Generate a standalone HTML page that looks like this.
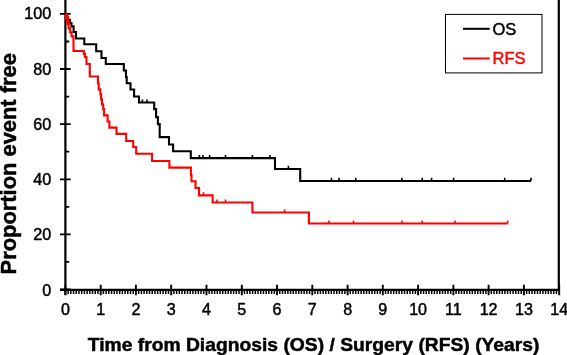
<!DOCTYPE html>
<html><head><meta charset="utf-8"><title>Kaplan-Meier</title>
<style>html,body{margin:0;padding:0;background:#fff}svg{display:block}text{font-family:"Liberation Sans",Arial,sans-serif;stroke-width:0.45px;paint-order:stroke}</style></head><body>
<svg width="567" height="355" viewBox="0 0 567 355">
<rect width="567" height="355" fill="#fff"/>
<g stroke="#000" stroke-width="2.2" fill="none">
<path d="M65.4,0V295"/>
<path d="M60,289.9H559.4"/>
<path d="M558.8,0V290.7"/>
</g>
<path d="M60,289.5H70.6 M60,234.4H70.6 M60,179.3H70.6 M60,124.1H70.6 M60,69.0H70.6 M60,13.9H70.6 M65.4,261.9H69.2 M65.4,206.8H69.2 M65.4,151.7H69.2 M65.4,96.6H69.2 M65.4,41.5H69.2" stroke="#000" stroke-width="1.8" fill="none"/>
<path d="M65.4,284.7V295.2 M100.7,284.7V295.2 M135.9,284.7V295.2 M171.2,284.7V295.2 M206.5,284.7V295.2 M241.8,284.7V295.2 M277.0,284.7V295.2 M312.3,284.7V295.2 M347.6,284.7V295.2 M382.8,284.7V295.2 M418.1,284.7V295.2 M453.4,284.7V295.2 M488.6,284.7V295.2 M523.9,284.7V295.2 M559.2,284.7V295.2" stroke="#000" stroke-width="1.9" fill="none"/>
<path d="M68.11,289.5V293.9 M70.83,289.5V293.9 M73.54,289.5V293.9 M76.25,289.5V293.9 M78.97,289.5V293.9 M81.68,289.5V293.9 M84.39,289.5V293.9 M87.10,289.5V293.9 M89.82,289.5V293.9 M92.53,289.5V293.9 M95.24,289.5V293.9 M97.96,289.5V293.9 M103.38,289.5V293.9 M106.10,289.5V293.9 M108.81,289.5V293.9 M111.52,289.5V293.9 M114.24,289.5V293.9 M116.95,289.5V293.9 M119.66,289.5V293.9 M122.37,289.5V293.9 M125.09,289.5V293.9 M127.80,289.5V293.9 M130.51,289.5V293.9 M133.23,289.5V293.9 M138.65,289.5V293.9 M141.37,289.5V293.9 M144.08,289.5V293.9 M146.79,289.5V293.9 M149.51,289.5V293.9 M152.22,289.5V293.9 M154.93,289.5V293.9 M157.64,289.5V293.9 M160.36,289.5V293.9 M163.07,289.5V293.9 M165.78,289.5V293.9 M168.50,289.5V293.9 M173.92,289.5V293.9 M176.64,289.5V293.9 M179.35,289.5V293.9 M182.06,289.5V293.9 M184.78,289.5V293.9 M187.49,289.5V293.9 M190.20,289.5V293.9 M192.91,289.5V293.9 M195.63,289.5V293.9 M198.34,289.5V293.9 M201.05,289.5V293.9 M203.77,289.5V293.9 M209.19,289.5V293.9 M211.91,289.5V293.9 M214.62,289.5V293.9 M217.33,289.5V293.9 M220.05,289.5V293.9 M222.76,289.5V293.9 M225.47,289.5V293.9 M228.18,289.5V293.9 M230.90,289.5V293.9 M233.61,289.5V293.9 M236.32,289.5V293.9 M239.04,289.5V293.9 M244.46,289.5V293.9 M247.18,289.5V293.9 M249.89,289.5V293.9 M252.60,289.5V293.9 M255.32,289.5V293.9 M258.03,289.5V293.9 M260.74,289.5V293.9 M263.45,289.5V293.9 M266.17,289.5V293.9 M268.88,289.5V293.9 M271.59,289.5V293.9 M274.31,289.5V293.9 M279.73,289.5V293.9 M282.45,289.5V293.9 M285.16,289.5V293.9 M287.87,289.5V293.9 M290.59,289.5V293.9 M293.30,289.5V293.9 M296.01,289.5V293.9 M298.72,289.5V293.9 M301.44,289.5V293.9 M304.15,289.5V293.9 M306.86,289.5V293.9 M309.58,289.5V293.9 M315.00,289.5V293.9 M317.72,289.5V293.9 M320.43,289.5V293.9 M323.14,289.5V293.9 M325.86,289.5V293.9 M328.57,289.5V293.9 M331.28,289.5V293.9 M333.99,289.5V293.9 M336.71,289.5V293.9 M339.42,289.5V293.9 M342.13,289.5V293.9 M344.85,289.5V293.9 M350.27,289.5V293.9 M352.99,289.5V293.9 M355.70,289.5V293.9 M358.41,289.5V293.9 M361.13,289.5V293.9 M363.84,289.5V293.9 M366.55,289.5V293.9 M369.26,289.5V293.9 M371.98,289.5V293.9 M374.69,289.5V293.9 M377.40,289.5V293.9 M380.12,289.5V293.9 M385.54,289.5V293.9 M388.26,289.5V293.9 M390.97,289.5V293.9 M393.68,289.5V293.9 M396.40,289.5V293.9 M399.11,289.5V293.9 M401.82,289.5V293.9 M404.53,289.5V293.9 M407.25,289.5V293.9 M409.96,289.5V293.9 M412.67,289.5V293.9 M415.39,289.5V293.9 M420.81,289.5V293.9 M423.53,289.5V293.9 M426.24,289.5V293.9 M428.95,289.5V293.9 M431.67,289.5V293.9 M434.38,289.5V293.9 M437.09,289.5V293.9 M439.80,289.5V293.9 M442.52,289.5V293.9 M445.23,289.5V293.9 M447.94,289.5V293.9 M450.66,289.5V293.9 M456.08,289.5V293.9 M458.80,289.5V293.9 M461.51,289.5V293.9 M464.22,289.5V293.9 M466.94,289.5V293.9 M469.65,289.5V293.9 M472.36,289.5V293.9 M475.07,289.5V293.9 M477.79,289.5V293.9 M480.50,289.5V293.9 M483.21,289.5V293.9 M485.93,289.5V293.9 M491.35,289.5V293.9 M494.07,289.5V293.9 M496.78,289.5V293.9 M499.49,289.5V293.9 M502.21,289.5V293.9 M504.92,289.5V293.9 M507.63,289.5V293.9 M510.34,289.5V293.9 M513.06,289.5V293.9 M515.77,289.5V293.9 M518.48,289.5V293.9 M521.20,289.5V293.9 M526.62,289.5V293.9 M529.34,289.5V293.9 M532.05,289.5V293.9 M534.76,289.5V293.9 M537.48,289.5V293.9 M540.19,289.5V293.9 M542.90,289.5V293.9 M545.61,289.5V293.9 M548.33,289.5V293.9 M551.04,289.5V293.9 M553.75,289.5V293.9 M556.47,289.5V293.9" stroke="#000" stroke-width="1.5" fill="none"/>
<text transform="translate(51.2,295.8) scale(1.0,1)" font-size="16.2" stroke="#000" text-anchor="end">0</text>
<text transform="translate(51.2,240.4) scale(1.0,1)" font-size="16.2" stroke="#000" text-anchor="end">20</text>
<text transform="translate(51.2,185.3) scale(1.0,1)" font-size="16.2" stroke="#000" text-anchor="end">40</text>
<text transform="translate(51.2,130.1) scale(1.0,1)" font-size="16.2" stroke="#000" text-anchor="end">60</text>
<text transform="translate(51.2,75.0) scale(1.0,1)" font-size="16.2" stroke="#000" text-anchor="end">80</text>
<text transform="translate(51.2,19.3) scale(1.0,1)" font-size="16.2" stroke="#000" text-anchor="end">100</text>
<text transform="translate(65.4,315.3) scale(1.0,1)" font-size="16.1" stroke="#000" text-anchor="middle">0</text>
<text transform="translate(100.7,315.3) scale(1.0,1)" font-size="16.1" stroke="#000" text-anchor="middle">1</text>
<text transform="translate(135.9,315.3) scale(1.0,1)" font-size="16.1" stroke="#000" text-anchor="middle">2</text>
<text transform="translate(171.2,315.3) scale(1.0,1)" font-size="16.1" stroke="#000" text-anchor="middle">3</text>
<text transform="translate(206.5,315.3) scale(1.0,1)" font-size="16.1" stroke="#000" text-anchor="middle">4</text>
<text transform="translate(241.8,315.3) scale(1.0,1)" font-size="16.1" stroke="#000" text-anchor="middle">5</text>
<text transform="translate(277.0,315.3) scale(1.0,1)" font-size="16.1" stroke="#000" text-anchor="middle">6</text>
<text transform="translate(312.3,315.3) scale(1.0,1)" font-size="16.1" stroke="#000" text-anchor="middle">7</text>
<text transform="translate(347.6,315.3) scale(1.0,1)" font-size="16.1" stroke="#000" text-anchor="middle">8</text>
<text transform="translate(382.8,315.3) scale(1.0,1)" font-size="16.1" stroke="#000" text-anchor="middle">9</text>
<text transform="translate(418.1,315.3) scale(1.0,1)" font-size="16.1" stroke="#000" text-anchor="middle">10</text>
<text transform="translate(453.4,315.3) scale(1.0,1)" font-size="16.1" stroke="#000" text-anchor="middle">11</text>
<text transform="translate(488.6,315.3) scale(1.0,1)" font-size="16.1" stroke="#000" text-anchor="middle">12</text>
<text transform="translate(523.9,315.3) scale(1.0,1)" font-size="16.1" stroke="#000" text-anchor="middle">13</text>
<text transform="translate(559.2,315.3) scale(1.0,1)" font-size="16.1" stroke="#000" text-anchor="middle">14</text>
<text transform="translate(313.6,350.6) scale(1.072,1)" font-size="18" font-weight="bold" stroke="#000" text-anchor="middle">Time from Diagnosis (OS) / Surgery (RFS) (Years)</text>
<text transform="translate(15.7,163.8) rotate(-90) scale(1,1.03)" font-size="21.9" stroke="#000" font-weight="bold" text-anchor="middle">Proportion event free</text>
<path d="M65.4,14.25 L66.5,14.25 L66.5,16.85 L68.0,16.85 L68.0,19.85 L69.9,19.85 L69.9,23.05 L71.5,23.05 L71.5,26.35 L73.6,26.35 L73.6,31.95 L76.0,31.95 L76.0,38.55 L84.3,38.55 L84.3,44.25 L96.2,44.25 L96.2,51.25 L101.5,51.25 L101.5,57.95 L105.8,57.95 L105.8,63.95 L123.8,63.95 L123.8,70.55 L126.0,70.55 L126.0,77.15 L126.7,77.15 L126.7,83.25 L130.5,83.25 L130.5,89.45 L134.1,89.45 L134.1,96.55 L139.0,96.55 L139.0,102.55 L154.2,102.55 L154.2,109.15 L156.1,109.15 L156.1,117.15 L157.9,117.15 L157.9,124.15 L159.7,124.15 L159.7,137.15 L169.0,137.15 L169.0,144.45 L173.1,144.45 L173.1,151.25 L190.8,151.25 L190.8,158.15 L275.0,158.15 L275.0,168.95 L300.2,168.95 L300.2,180.95 L531.0,180.95" stroke="#000" stroke-width="2.1" fill="none" stroke-linejoin="miter"/>
<path d="M142.4,102.55v-3.1 M147.0,102.55v-3.1 M199.4,158.15v-3.1 M202.9,158.15v-3.1 M209.6,158.15v-3.1 M225.5,158.15v-3.1 M252.4,158.15v-3.1 M270.0,158.15v-3.1 M288.4,168.95v-3.1 M331.5,180.95v-3.1 M339.0,180.95v-3.1 M355.8,180.95v-3.1 M401.9,180.95v-3.1 M422.2,180.95v-3.1 M431.6,180.95v-3.1 M453.6,180.95v-3.1 M504.7,180.95v-3.1 M531.0,180.95v-3.1" stroke="#000" stroke-width="1.6" fill="none"/>
<path d="M65.4,14.25 L66.0,14.25 L66.0,17.85 L67.4,17.85 L67.4,22.85 L68.7,22.85 L68.7,28.35 L70.2,28.35 L70.2,32.35 L71.6,32.35 L71.6,36.35 L73.5,36.35 L73.5,50.95 L83.8,50.95 L83.8,53.95 L85.0,53.95 L85.0,57.15 L86.5,57.15 L86.5,63.95 L89.8,63.95 L89.8,76.55 L98.0,76.55 L98.0,83.35 L98.7,83.35 L98.7,89.35 L100.4,89.35 L100.4,94.35 L101.1,94.35 L101.1,99.35 L102.0,99.35 L102.0,104.35 L103.2,104.35 L103.2,109.15 L104.1,109.15 L104.1,115.35 L107.6,115.35 L107.6,121.55 L109.4,121.55 L109.4,127.65 L116.5,127.65 L116.5,133.85 L126.2,133.85 L126.2,140.95 L133.2,140.95 L133.2,147.05 L136.2,147.05 L136.2,153.75 L152.1,153.75 L152.1,160.95 L169.4,160.95 L169.4,167.65 L190.9,167.65 L190.9,175.05 L191.5,175.05 L191.5,181.25 L195.5,181.25 L195.5,187.95 L199.0,187.95 L199.0,195.35 L212.6,195.35 L212.6,202.55 L252.4,202.55 L252.4,212.55 L308.9,212.55 L308.9,223.55 L507.7,223.55" stroke="#f00" stroke-width="2.1" fill="none" stroke-linejoin="miter"/>
<path d="M65.6,13.4H67.2L68.9,16.5L70,24.5L68.4,26L66.4,24.5L65.6,19Z" fill="#f00"/>
<path d="M203.5,195.35v-3.1 M217.0,202.55v-3.1 M225.5,202.55v-3.1 M284.6,212.55v-3.1 M329.0,223.55v-3.1 M353.5,223.55v-3.1 M401.9,223.55v-3.1 M422.2,223.55v-3.1 M455.0,223.55v-3.1 M507.7,223.55v-3.1" stroke="#f00" stroke-width="1.6" fill="none"/>
<rect x="445.5" y="14.4" width="96.5" height="58.5" fill="#fff" stroke="#000" stroke-width="1"/>
<path d="M463,28.8H489.7" stroke="#000" stroke-width="2"/>
<path d="M463,58.5H489.7" stroke="#f00" stroke-width="2"/>
<text transform="translate(492.5,34.7) scale(1.0,1)" font-size="16.5" stroke="#000" text-anchor="start">OS</text>
<text transform="translate(492.5,63.8) scale(1.0,1)" font-size="16.5" fill="#f00" stroke="#f00" text-anchor="start">RFS</text>
<path d="M504.6,73.7h1.2l-0.6,1z" fill="#f99"/>
</svg></body></html>
